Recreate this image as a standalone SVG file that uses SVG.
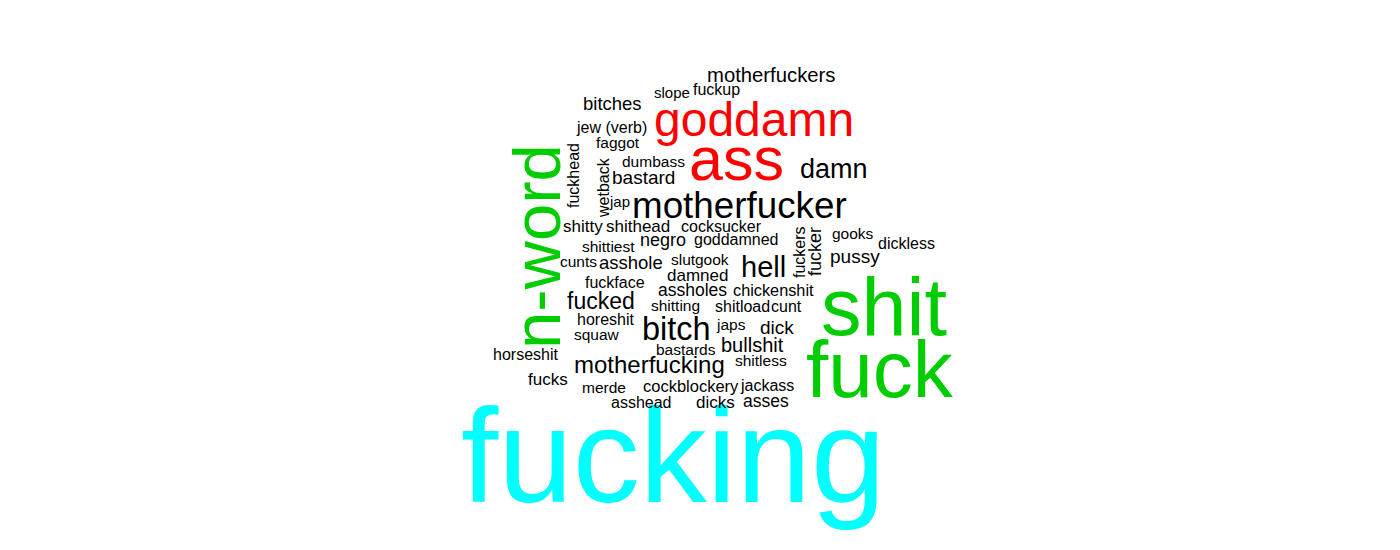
<svg xmlns="http://www.w3.org/2000/svg" width="1400" height="550" viewBox="0 0 1400 550">
<style>
text{font-family:"Liberation Sans",Arial,sans-serif;fill:#000}
.r{fill:#FF0000}.g{fill:#00CD00}.c{fill:#00FFFF}
</style>
<rect width="1400" height="550" fill="#fff"/>
<g id="cloud">
<text id="w-fucking" class="c" x="461" y="502" font-size="134">fucking</text>
<text id="w-shit" class="g" x="821" y="335" font-size="81">shit</text>
<text id="w-fuck" class="g" x="806" y="397" font-size="80">fuck</text>
<text id="w-nword" class="g" transform="translate(560,349) rotate(-90)" font-size="67">n-word</text>
<text id="w-goddamn" class="r" x="654" y="136" font-size="48">goddamn</text>
<text id="w-ass" class="r" x="689" y="180" font-size="61">ass</text>
<text x="800" y="178" font-size="27">damn</text>
<text x="707" y="82" font-size="20.3">motherfuckers</text>
<text x="654" y="97.5" font-size="15">slope</text>
<text x="693" y="95" font-size="16">fuckup</text>
<text x="583" y="110" font-size="18.5">bitches</text>
<text x="577" y="133" font-size="16">jew (verb)</text>
<text x="596" y="148" font-size="15.5">faggot</text>
<text x="622" y="167" font-size="15.5">dumbass</text>
<text x="612" y="184" font-size="19">bastard</text>
<text transform="translate(579,208) rotate(-90)" font-size="16">fuckhead</text>
<text transform="translate(609,217) rotate(-90)" font-size="16">wetback</text>
<text x="610" y="207" font-size="15">jap</text>
<text x="632" y="218" font-size="36.8">motherfucker</text>
<text x="563" y="232" font-size="17">shitty</text>
<text x="606" y="232" font-size="17">shithead</text>
<text x="681" y="232" font-size="16">cocksucker</text>
<text x="582" y="252" font-size="15.5">shittiest</text>
<text x="640" y="246" font-size="18">negro</text>
<text x="694" y="245" font-size="16">goddamned</text>
<text x="560" y="267" font-size="15.5">cunts</text>
<text x="599" y="269" font-size="18.5">asshole</text>
<text x="671" y="265" font-size="15.5">slut</text>
<text x="695" y="265" font-size="15.5">gook</text>
<text x="667" y="281" font-size="17">damned</text>
<text x="741" y="277" font-size="29">hell</text>
<text transform="translate(805,278) rotate(-90)" font-size="16">fuckers</text>
<text transform="translate(821,276) rotate(-90)" font-size="18">fucker</text>
<text x="832" y="239" font-size="15.5">gooks</text>
<text x="878" y="249" font-size="16">dickless</text>
<text x="830" y="263" font-size="19">pussy</text>
<text x="733" y="296" font-size="16.3">chickenshit</text>
<text x="658" y="296" font-size="17.5">assholes</text>
<text x="585" y="288" font-size="16">fuckface</text>
<text x="567" y="309" font-size="23">fucked</text>
<text x="651" y="311" font-size="15.5">shitting</text>
<text x="715" y="312" font-size="16">shitload</text>
<text x="771" y="312" font-size="16">cunt</text>
<text x="577" y="325" font-size="16">horeshit</text>
<text x="642" y="340" font-size="32.5">bitch</text>
<text x="717" y="330" font-size="15.5">japs</text>
<text x="760" y="334" font-size="19">dick</text>
<text x="574" y="340" font-size="15.5">squaw</text>
<text x="721" y="352" font-size="20">bullshit</text>
<text x="656" y="355" font-size="15.5">bastards</text>
<text x="493" y="360" font-size="16">horseshit</text>
<text x="574" y="373" font-size="24">motherfucking</text>
<text x="735" y="366" font-size="15.5">shitless</text>
<text x="528" y="385" font-size="17">fucks</text>
<text x="582" y="393" font-size="15.5">merde</text>
<text x="643" y="392" font-size="16.5">cockblockery</text>
<text x="741" y="391" font-size="16">jackass</text>
<text x="611" y="407.5" font-size="16">asshead</text>
<text x="696" y="407.5" font-size="17">dicks</text>
<text x="743" y="407" font-size="17.5">asses</text>
</g>
</svg>
